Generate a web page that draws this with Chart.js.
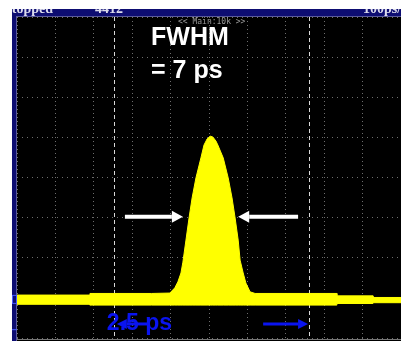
<!DOCTYPE html>
<html>
<head>
<meta charset="utf-8">
<script src="https://cdn.jsdelivr.net/npm/chart.js@4.4.1/dist/chart.umd.min.js"></script>
<style>
    html, body { margin: 0; padding: 0; background: #ffffff; }
    #wrap { width: 401px; height: 341px; position: relative; }
</style>
</head>
<body>
<div id="wrap"><canvas id="scope"></canvas></div>
<script>
// time axis in divisions (centre = 0), amplitude in divisions
const times = [-5.00, -3.10, -3.10, -1.50, -1.02, -0.89, -0.81, -0.73, -0.68, -0.60,
    -0.52, -0.44, -0.34, -0.21, -0.13, -0.05, 0.03, 0.10, 0.18, 0.23,
    0.37, 0.50, 0.60, 0.68, 0.76, 0.81, 0.89, 0.96, 1.07, 1.20,
    3.33, 3.33, 4.27, 4.27, 5.00];
const traceTop = [-2.93, -2.93, -2.89, -2.89, -2.88, -2.75, -2.60, -2.38, -2.11, -1.56,
    -1.01, -0.51, -0.01, 0.49, 0.81, 0.96, 1.03, 1.01, 0.91, 0.81,
    0.49, -0.01, -0.51, -1.01, -1.56, -2.06, -2.38, -2.63, -2.85, -2.89,
    -2.89, -2.95, -2.95, -2.99, -2.99];
const traceBottom = [-3.16, -3.16, -3.18, -3.18, -3.18, -3.18, -3.18, -3.18, -3.18, -3.18,
    -3.18, -3.18, -3.18, -3.18, -3.18, -3.18, -3.18, -3.18, -3.18, -3.18,
    -3.18, -3.18, -3.18, -3.18, -3.18, -3.18, -3.18, -3.18, -3.18, -3.18,
    -3.18, -3.14, -3.14, -3.12, -3.12];

const cursors = [-2.47, 2.60];

const headerTexts = [
    { text: 'Stopped', x: 4 },
    { text: '4412', x: 95 },
    { text: '100ps/div', x: 363 }
];

// arrows: from -> to (head at "to"), in divisions
const whiteArrows = [
    { from: -2.19, to: -0.68, y: -0.98 },
    { from: 2.32, to: 0.76, y: -0.98 }
];
const blueArrows = [
    { from: -1.61, to: -2.40, y: -3.65 },
    { from: 1.41, to: 2.58, y: -3.65 }
];
const labels = [
    { text: 'FWHM', x: -1.51, y: 3.30, color: '#ffffff' },
    { text: '= 7 ps', x: -1.51, y: 2.48, color: '#ffffff' },
    { text: '2.5 ps', x: -2.66, y: -3.80, color: '#0a14f0' }
];

const navy = '#0d0d72';

function drawArrow(ctx, x1, y, x2, color, width, headLen, headHalf) {
    const dir = x2 > x1 ? 1 : -1;
    ctx.strokeStyle = color;
    ctx.fillStyle = color;
    ctx.lineWidth = width;
    ctx.beginPath();
    ctx.moveTo(x1, y);
    ctx.lineTo(x2 - dir * headLen, y);
    ctx.stroke();
    ctx.beginPath();
    ctx.moveTo(x2, y);
    ctx.lineTo(x2 - dir * headLen, y - headHalf);
    ctx.lineTo(x2 - dir * headLen, y + headHalf);
    ctx.closePath();
    ctx.fill();
}

const scopeFrame = {
    id: 'scopeFrame',
    beforeDraw(chart) {
        const { ctx, chartArea: a, width, height } = chart;
        ctx.save();
        ctx.fillStyle = '#ffffff';
        ctx.fillRect(0, 0, width, height);
        ctx.fillStyle = navy;
        ctx.fillRect(12, 9, width - 12, a.top - 9);
        ctx.fillRect(12, 9, a.left - 12, height - 9);
        ctx.fillStyle = '#000000';
        ctx.fillRect(a.left, a.top, a.right - a.left, height - a.top);
        ctx.fillStyle = '#5a5a9a';
        ctx.fillRect(a.left - 1, a.top - 1, width, 1);
        ctx.fillRect(a.left - 1, a.top - 1, 1, height);
        ctx.fillStyle = '#777777';
        ctx.fillRect(a.left, a.bottom + 1, width, 1);

        // channel markers on the left frame
        const y = chart.scales.y;
        ctx.strokeStyle = '#4a5cff';
        ctx.lineWidth = 1;
        const g = y.getPixelForValue(-3.05);
        ctx.strokeRect(12.5, g - 4.5, 4, 8);
        ctx.beginPath();
        ctx.moveTo(12, y.getPixelForValue(-3.78) + 0.5);
        ctx.lineTo(17, y.getPixelForValue(-3.78) + 0.5);
        ctx.stroke();

        // header text, clipped by the bar
        ctx.beginPath();
        ctx.rect(12, 9, width - 12, a.top - 10);
        ctx.clip();
        ctx.fillStyle = '#dcdcec';
        ctx.font = 'bold 14px "Liberation Serif"';
        ctx.textBaseline = 'alphabetic';
        headerTexts.forEach(h => ctx.fillText(h.text, h.x, 13));
        ctx.restore();
    },
    beforeDatasetsDraw(chart) {
        const { ctx, chartArea: a, scales: { x } } = chart;
        ctx.save();
        ctx.strokeStyle = '#d8d8d8';
        ctx.lineWidth = 1;
        ctx.setLineDash([4, 3]);
        cursors.forEach(c => {
            const px = Math.round(x.getPixelForValue(c)) + 0.5;
            ctx.beginPath();
            ctx.moveTo(px, a.top);
            ctx.lineTo(px, a.bottom);
            ctx.stroke();
        });
        ctx.setLineDash([]);
        ctx.fillStyle = '#9a9a9a';
        ctx.font = '8px "DejaVu Sans Mono"';
        ctx.fillText('<< Main:10k >>', 178, 24);
        ctx.restore();
    },
    afterDatasetsDraw(chart) {
        const { ctx, scales: { x, y } } = chart;
        ctx.save();
        whiteArrows.forEach(ar => drawArrow(ctx, x.getPixelForValue(ar.from), y.getPixelForValue(ar.y),
            x.getPixelForValue(ar.to), '#ffffff', 4, 11, 6));
        ctx.font = 'bold 25px "Liberation Sans"';
        ctx.textBaseline = 'alphabetic';
        labels.forEach(l => {
            ctx.fillStyle = l.color;
            ctx.font = l.color === '#ffffff' ? 'bold 25px "Liberation Sans"' : 'bold 23px "Liberation Sans"';
            ctx.fillText(l.text, x.getPixelForValue(l.x), y.getPixelForValue(l.y));
        });
        blueArrows.forEach(ar => drawArrow(ctx, x.getPixelForValue(ar.from), y.getPixelForValue(ar.y),
            x.getPixelForValue(ar.to), '#0a14f0', 3, 10, 5));
        ctx.restore();
    }
};

function initialize() {
    const ctx = document.getElementById('scope').getContext('2d');
    new Chart(ctx, {
        type: 'line',
        data: {
            datasets: [{
                data: times.map((t, i) => ({ x: t, y: traceBottom[i] })),
                borderColor: '#ffff00',
                borderWidth: 1,
                pointRadius: 0,
                fill: false
            }, {
                data: times.map((t, i) => ({ x: t, y: traceTop[i] })),
                borderColor: '#ffff00',
                backgroundColor: '#ffff00',
                borderWidth: 1,
                pointRadius: 0,
                fill: '-1'
            }]
        },
        options: {
            responsive: true,
            maintainAspectRatio: false,
            animation: false,
            layout: { padding: { left: 17, top: 17, right: 0, bottom: 3 } },
            plugins: { legend: { display: false }, tooltip: { enabled: false } },
            scales: {
                x: {
                    type: 'linear',
                    min: -5,
                    max: 5,
                    ticks: { display: false, stepSize: 1 },
                    grid: { color: '#6e6e6e', drawTicks: false, lineWidth: 1 },
                    border: { display: false, dash: [1, 3] }
                },
                y: {
                    min: -4,
                    max: 4,
                    ticks: { display: false, stepSize: 1 },
                    grid: { color: '#6e6e6e', drawTicks: false, lineWidth: 1 },
                    border: { display: false, dash: [1, 4] }
                }
            }
        },
        plugins: [scopeFrame]
    });
}

document.addEventListener('DOMContentLoaded', initialize);
</script>
</body>
</html>
